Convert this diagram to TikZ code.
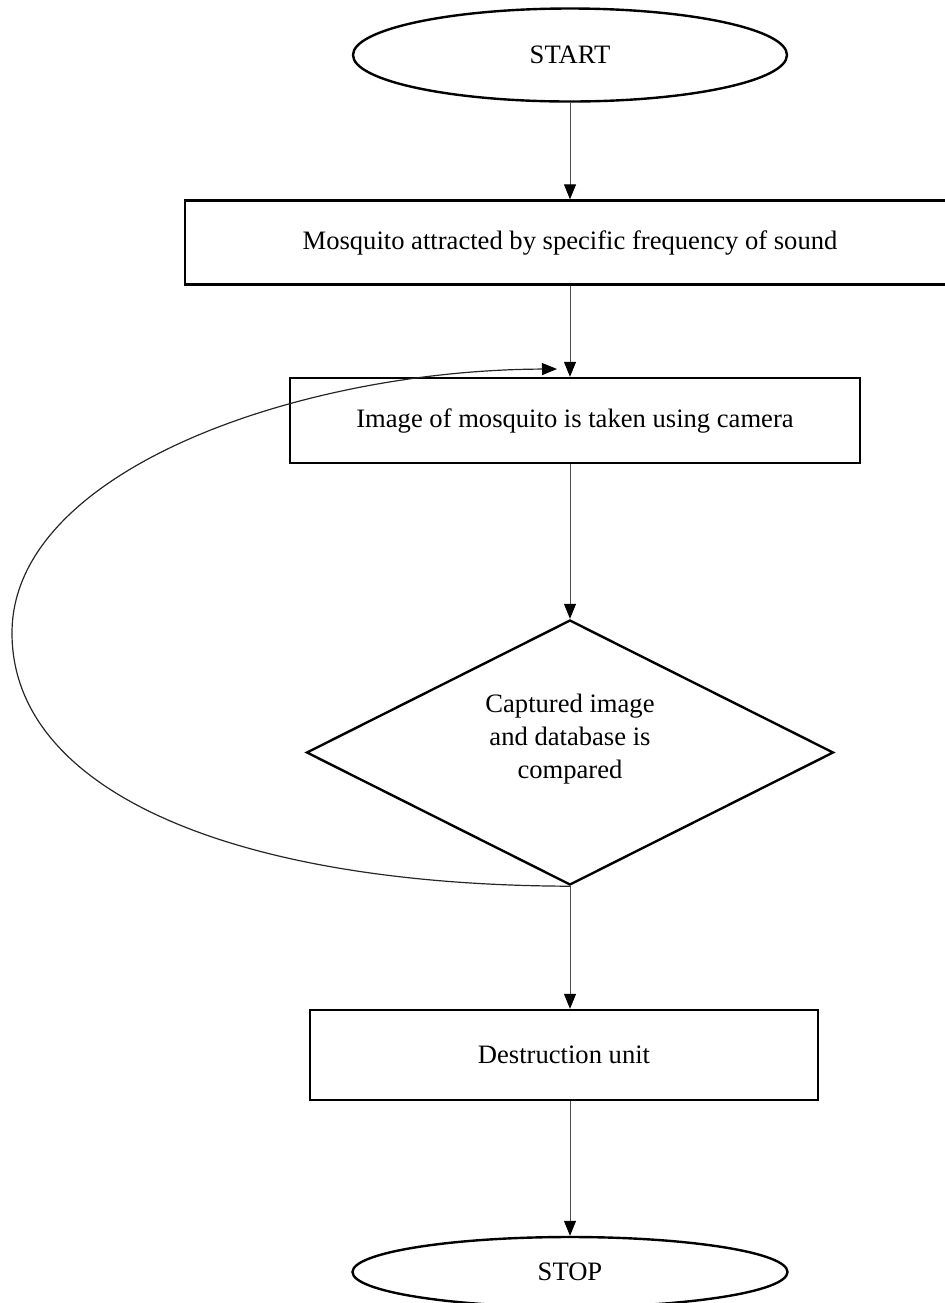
\documentclass[tikz,border=0pt]{standalone}
\usepackage{fontspec}
\setmainfont{Liberation Serif}
\usetikzlibrary{shapes, arrows.meta, positioning}

\begin{document}
\begin{tikzpicture}[x=0.5pt, y=-0.5pt,
    every node/.style={font=\fontsize{13.3}{16.5}\selectfont},
    term/.style={draw, ellipse, line width=1.2pt, inner sep=0pt},
    proc/.style={draw, rectangle, line width=1.2pt},
    decide/.style={draw, diamond, aspect=2, line width=1.2pt, inner sep=0pt, align=center},
    flow/.style={-{Triangle[length=7.5pt, width=6pt, color=black]}, draw=black!70, line width=0.5pt}]
            \useasboundingbox (0,0) rectangle (944,1303);

            \node[term, minimum width=217pt, minimum height=46.5pt] (start) at (570,55) {START};
            % box runs off the right side of the page
            \node[proc, minimum width=407.5pt, minimum height=42pt] (sound) at (592.5,242.5) {Mosquito attracted by specific frequency of sound\hspace*{22.5pt}};
            \node[proc, minimum width=285pt, minimum height=42.5pt] (camera) at (575,420.5) {Image of mosquito is taken using camera};
            \node[decide, minimum width=263.5pt, minimum height=132.5pt] (cmp) at (570,752.5) {
                Captured image \\
                and database is \\
                compared\rule[-16pt]{0pt}{16pt}
            };
            \node[proc, minimum width=254pt, minimum height=45pt] (kill) at (564,1055) {Destruction unit};
            \node[term, minimum width=217.5pt, minimum height=35pt] (stop) at (570,1272) {STOP};
            \coordinate (back) at (557,369);

            \draw[flow] (start) -- (start |- sound.north);
            \draw[flow] (start |- sound.south) -- (start |- camera.north);
            \draw[flow] (start |- camera.south) -- (cmp);
            \draw[flow] (cmp) -- (cmp |- kill.north);
            \draw[flow] (cmp |- kill.south) -- (stop);

            % back to the camera
            \draw[flow, draw=black!85, line width=0.6pt] (cmp.south) .. controls (230,885) and (12,790) .. (12,633)
                .. controls (12,470) and (300,370) .. (back);
        \end{tikzpicture}
\end{document}
